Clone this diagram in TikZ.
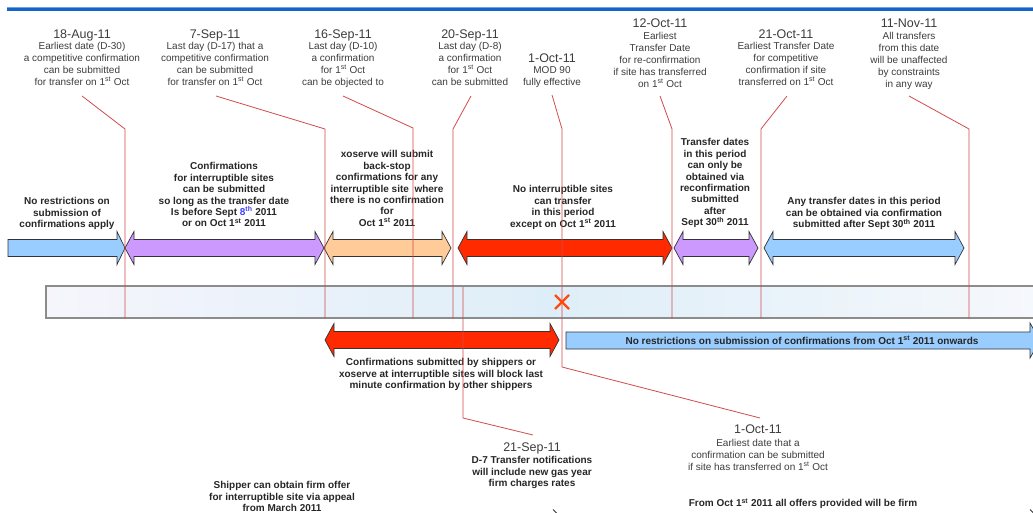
\documentclass[tikz,border=0pt]{standalone}
\usepackage{fontspec}
\setmainfont{Liberation Sans}
\usetikzlibrary{calc}
\definecolor{leadred}{HTML}{D24B4B}
\definecolor{labgray}{HTML}{3C3C3C}
\definecolor{boldgray}{HTML}{262626}
\definecolor{arrline}{HTML}{333333}
\definecolor{ablue}{HTML}{99CCFF}
\definecolor{apurple}{HTML}{CC99FF}
\definecolor{aorange}{HTML}{FFCC99}
\definecolor{ared}{HTML}{FF2A00}
\definecolor{topblue}{HTML}{1565C8}
\definecolor{topblueL}{HTML}{6FA3E0}
\definecolor{blueeight}{HTML}{4040FF}
\definecolor{crossc}{HTML}{FF4A10}
\definecolor{barline}{HTML}{8C8C8C}
\newcommand\sps[1]{\textsuperscript{#1}}
% double arrow: x1, x2, yc, fill
\newcommand\dblarr[4]{%
  \filldraw[arr,fill=#4] (#1,#3) -- ({#1+9},{#3-16.5}) -- ({#1+9},{#3-8.5}) -- ({#2-9},{#3-8.5}) -- ({#2-9},{#3-16.5}) -- (#2,#3) -- ({#2-9},{#3+16.5}) -- ({#2-9},{#3+8.5}) -- ({#1+9},{#3+8.5}) -- ({#1+9},{#3+16.5}) -- cycle;}
\begin{document}
\begin{tikzpicture}[x=1pt,y=-1pt,
  lbl/.style={align=center, inner sep=0pt, anchor=north, text=labgray, font=\fontsize{10}{11.8}\selectfont, execute at begin node={\strut}},
  datef/.style={inner sep=0pt, anchor=base, text=labgray, font=\fontsize{12.5}{15}\selectfont},
  bold/.style={align=center, inner sep=0pt, anchor=north, text=boldgray, font=\bfseries\fontsize{10}{11.45}\selectfont, execute at begin node={\strut}},
  lead/.style={draw=leadred, line width=0.8pt},
  arr/.style={draw=arrline, line width=0.7pt, line join=miter}]
\useasboundingbox (0,0) rectangle (1033,513);
\begin{scope}
\clip (0,0) rectangle (1033,513);
% top rule
\fill[topblue] (7,7.5) rectangle (1033,11.5);
\fill[topblueL] (7,6.8) rectangle (1033,7.8);

% timeline bar
\node[draw=barline, line width=1.1pt, minimum width=1000pt, minimum height=32pt, inner sep=0pt,
  left color={rgb,255:red,246;green,245;blue,252}, right color={rgb,255:red,246;green,248;blue,252},
  middle color={rgb,255:red,222;green,238;blue,248}] (bar) at (546,302) {};

% upper arrows
\filldraw[arr,fill=ablue] (8,239.5) -- (117,239.5) -- (117,231.5) -- (125,248) -- (117,264.5) -- (117,256.5) -- (8,256.5) -- cycle;
\dblarr{125}{324}{248}{apurple}
\dblarr{324}{451}{248}{aorange}
\dblarr{458}{672}{248}{ared}
\dblarr{674}{758}{248}{apurple}
\dblarr{764}{964}{248}{ablue}

% lower arrows
\dblarr{325}{559}{340}{ared}
\filldraw[arr,fill=ablue] (566,332) -- (1030,332) -- (1030,323) -- (1040,340.5) -- (1030,358) -- (1030,349) -- (566,349) -- cycle;

% top labels
\node[datef] (d1) at (82,38.5) {18-Aug-11};
\node[lbl] (b1) at (82,42.3) {Earliest date (D-30)\\a competitive confirmation\\can be submitted\\for transfer on 1\sps{st} Oct};
\node[datef] (d2) at (215,38.5) {7-Sep-11};
\node[lbl] (b2) at (215,42.3) {Last day (D-17) that a\\competitive confirmation\\can be submitted\\for transfer on 1\sps{st} Oct};
\node[datef] (d3) at (343,38.5) {16-Sep-11};
\node[lbl] (b3) at (343,42.3) {Last day (D-10)\\a confirmation\\for 1\sps{st} Oct\\can be objected to};
\node[datef] (d4) at (470,38.5) {20-Sep-11};
\node[lbl] (b4) at (470,42.3) {Last day (D-8)\\a confirmation\\for 1\sps{st} Oct\\can be submitted};
\node[datef] (d5) at (552,62.5) {1-Oct-11};
\node[lbl] (b5) at (552,66.7) {MOD 90\\fully effective};
\node[datef] (d6) at (660,27.5) {12-Oct-11};
\node[lbl] (b6) at (660,32.5) {Earliest\\Transfer Date\\for re-confirmation\\if site has transferred\\on 1\sps{st} Oct};
\node[datef] (d7) at (786,38.5) {21-Oct-11};
\node[lbl] (b7) at (786,42.3) {Earliest Transfer Date\\for competitive\\confirmation if site\\transferred on 1\sps{st} Oct};
\node[datef] (d8) at (909,27.5) {11-Nov-11};
\node[lbl] (b8) at (909,32.5) {All transfers\\from this date\\will be unaffected\\by constraints\\in any way};

% middle texts
\node[bold] (tA) at (67,197.3) {No restrictions on\\submission of\\confirmations apply};
\node[bold] (tB) at (224,162.3) {Confirmations\\for interruptible sites\\can be submitted\\so long as the transfer date\\Is before Sept {\color{blueeight}8\sps{th}} 2011\\or on Oct 1\sps{st} 2011};
\node[bold] (tC) at (387,150.3) {xoserve will submit\\back-stop\\confirmations for any\\interruptible site\ \ where\\there is no confirmation\\for\\Oct 1\sps{st} 2011};
\node[bold] (tD) at (563,185.3) {No interruptible sites\\can transfer\\in this period\\except on Oct 1\sps{st} 2011};
\node[bold] (tE) at (715,138.3) {Transfer dates\\in this period\\can only be\\obtained via\\reconfirmation\\submitted\\after\\Sept 30\sps{th} 2011};
\node[bold] (tF) at (864,197.3) {Any transfer dates in this period\\can be obtained via confirmation\\submitted after Sept 30\sps{th} 2011};

% lower texts
\node[bold] (tG) at (441,358.3) {Confirmations submitted by shippers or\\xoserve at interruptible sites will block last\\minute confirmation by other shippers};
\node[bold] (tH) at (802,335.8) {No restrictions on submission of confirmations from Oct 1\sps{st} 2011 onwards};
\node[datef] (d9) at (532,451.5) {21-Sep-11};
\node[bold] (b9) at (532,456.3) {D-7 Transfer notifications\\will include new gas year\\firm charges rates};
\node[datef] (d10) at (758,433.5) {1-Oct-11};
\node[lbl] (b10) at (758,439.2) {Earliest date that a\\confirmation can be submitted\\if site has transferred on 1\sps{st} Oct};
\node[bold] (tK) at (282,481.3) {Shipper can obtain firm offer\\for interruptible site via appeal\\from March 2011};
\node[bold] (tL) at (803,498.3) {From Oct 1\sps{st} 2011 all offers provided will be firm};

% leader coordinates
\coordinate (s1) at (82,96);   \coordinate (k1) at (125,129);
\coordinate (s2) at (216,96);  \coordinate (k2) at (325,129);
\coordinate (s3) at (343,96);  \coordinate (k3) at (413,128);
\coordinate (s4) at (471,96);  \coordinate (k4) at (453,129);
\coordinate (s5) at (552,95);  \coordinate (k5) at (562,129);
\coordinate (s6) at (660,96);  \coordinate (k6) at (672,129);
\coordinate (s7) at (787,96);  \coordinate (k7) at (761,129);
\coordinate (s8) at (909,96);  \coordinate (k8) at (969,129);
\coordinate (k5b) at (562,367);
\coordinate (e5) at (760,418);
\coordinate (s9) at (463,287);
\coordinate (k9) at (463,418);
\coordinate (e9) at (533,435);

\draw[lead] (s1) -- (k1) -- (k1 |- bar.south);
\draw[lead] (s2) -- (k2) -- (k2 |- bar.south);
\draw[lead] (s3) -- (k3) -- (k3 |- bar.south);
\draw[lead] (s4) -- (k4) -- (k4 |- bar.south);
\draw[lead] (s5) -- (k5) -- (k5b) -- (e5);
\draw[lead] (s6) -- (k6) -- (k6 |- bar.south);
\draw[lead] (s7) -- (k7) -- (k7 |- bar.south);
\draw[lead] (s8) -- (k8) -- (k8 |- bar.south);
\draw[lead] (s9) -- (k9) -- (e9);

% cross
\coordinate (cx) at (562,302);
\draw[crossc, line width=2.4pt] ($(cx)+(-7,-7)$) -- ($(cx)+(7,7)$) ($(cx)+(-7,7)$) -- ($(cx)+(7,-7)$);

% cut-off marks at the bottom edge
\coordinate (f1) at (553,509.5);
\coordinate (f2) at (1030,509.5);
\draw[arrline, line width=0.8pt] (f1) -- ++(4,4);
\draw[arrline, line width=0.8pt] (f2) -- ++(4,4);
\end{scope}
\end{tikzpicture}
\end{document}
